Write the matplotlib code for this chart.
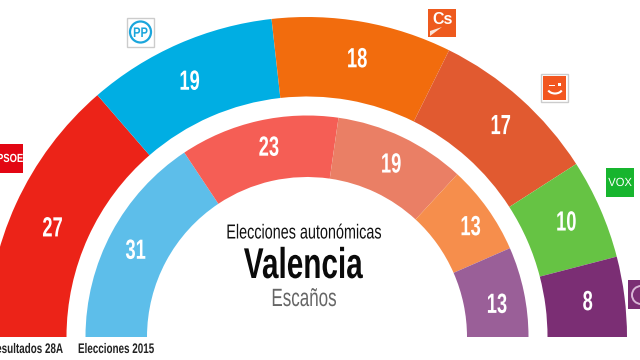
import numpy as np
import matplotlib
matplotlib.use('Agg')
import matplotlib.pyplot as plt
from matplotlib.patches import Wedge, Rectangle, Circle, Polygon, Arc
from matplotlib.patheffects import AbstractPathEffect
from matplotlib.transforms import Affine2D

plt.rcParams['font.family'] = ['Liberation Sans', 'DejaVu Sans']

# escaños
seats_28a = [27, 19, 18, 17, 10, 8]
colors_28a = ['#EC2318', '#00AEE3', '#F26C0D', '#E15A30', '#66C344', '#7B2E74']
seats_2015 = [31, 23, 19, 13, 13]
colors_2015 = ['#5DBEEA', '#F55E55', '#EA7F65', '#F68E4C', '#9A5F98']
label_28a = 'Resultados 28A'
label_2015 = 'Elecciones 2015'

CX, CY = 307, 23  # centro, en pixeles desde abajo


class Squeeze(AbstractPathEffect):
    # estrecha el texto en horizontal, no hay fuente condensada instalada
    def __init__(self, sx, x0):
        super().__init__()
        self.sx = sx
        self.x0 = x0

    def draw_path(self, renderer, gc, tpath, affine, rgbFace=None):
        squeeze = Affine2D().translate(-self.x0, 0).scale(self.sx, 1).translate(self.x0, 0)
        renderer.draw_path(gc, tpath, affine + squeeze, rgbFace)


def narrow(ax, x, y, s, sx=0.65, ha='center', **kw):
    return ax.text(x, y, s, ha=ha, va='center', path_effects=[Squeeze(sx, x)], **kw)


def ring(ax, seats, colors, r_out, r_in, r_label, nudge, fs):
    total = sum(seats)
    acc = 0
    for s, c, (dx, dy) in zip(seats, colors, nudge):
        a1 = 180 - (acc + s) / total * 180
        a2 = 180 - acc / total * 180
        ax.add_patch(Wedge((CX, CY), r_out, a1, a2, width=r_out - r_in, fc=c, ec='none'))
        mid = np.radians((a1 + a2) / 2)
        narrow(ax, CX + r_label * np.cos(mid) + dx, CY + r_label * np.sin(mid) + dy, str(s),
               sx=0.66, color='white', fontsize=fs, fontweight='bold')
        acc += s


fig = plt.figure(figsize=(6.4, 3.6), dpi=100)
ax = fig.add_axes([0, 0, 1, 1])
ax.set_xlim(0, 640)
ax.set_ylim(0, 360)
ax.axis('off')

ring(ax, seats_28a, colors_28a, 320, 240.5, 283,
     [(3, -10), (-4, -5), (1, -2), (5, -1), (0, 0), (0, -2)], 20)
ring(ax, seats_2015, colors_2015, 221.5, 160, 191,
     [(-3, -5), (4, 2), (2, -1), (8, -2), (3, -8)], 20)

narrow(ax, 63, 11, label_28a, sx=0.71, ha='right', fontsize=10, fontweight='bold', color='#222222')
narrow(ax, 78, 11, label_2015, sx=0.71, ha='left', fontsize=10, fontweight='bold', color='#222222')

narrow(ax, 304, 127, 'Elecciones autonómicas', sx=0.71, fontsize=14.6, color='#111111')
narrow(ax, 303, 93, 'Valencia', sx=0.69, fontsize=31, fontweight='bold', color='#0a0a0a')
narrow(ax, 304, 61, 'Escaños', sx=0.68, fontsize=18, color='#666666')

# logos de los partidos
ax.add_patch(Rectangle((-5, 187), 28, 29, fc='#E30613', ec='none'))
narrow(ax, 10, 201, 'PSOE', sx=0.8, color='white', fontsize=8.5, fontweight='bold')

ax.add_patch(Rectangle((127, 313), 27, 29, fc='white', ec='#cccccc', lw=1))
ax.add_patch(Circle((140.5, 328), 10.5, fc='white', ec='#1BA6DC', lw=1.6))
narrow(ax, 140.5, 327, 'PP', sx=0.8, color='#1BA6DC', fontsize=10, fontweight='bold')

ax.add_patch(Rectangle((428, 323), 28, 28, fc='#EE5A1E', ec='none'))
ax.text(443, 341, 'Cs', color='white', fontsize=11.5, fontweight='bold', ha='center', va='center')
ax.add_patch(Polygon([(430, 324), (442, 333), (430, 329)], fc='#FBE3D6', ec='none'))

ax.add_patch(Rectangle((541, 258), 27, 28, fc='white', ec='#cccccc', lw=1))
ax.add_patch(Rectangle((543, 260), 23, 24, fc='#F2561F', ec='none'))
ax.add_patch(Arc((555, 272), 15, 11, theta1=200, theta2=340, color='white', lw=1.5))
ax.add_patch(Rectangle((549, 274), 6, 1.5, fc='white', ec='none'))
ax.add_patch(Rectangle((558, 274), 3, 3, fc='white', ec='none'))

ax.add_patch(Rectangle((606, 163), 28, 29, fc='#17B52E', ec='none'))
narrow(ax, 620, 177, 'VOX', sx=0.95, color='white', fontsize=8.5)

ax.add_patch(Rectangle((628, 51), 14, 29, fc='#7B2E74', ec='none'))
ax.add_patch(Circle((641, 65), 9, fc='none', ec='#D9B5D6', lw=1.4))

fig.savefig('out.png', dpi=100)
